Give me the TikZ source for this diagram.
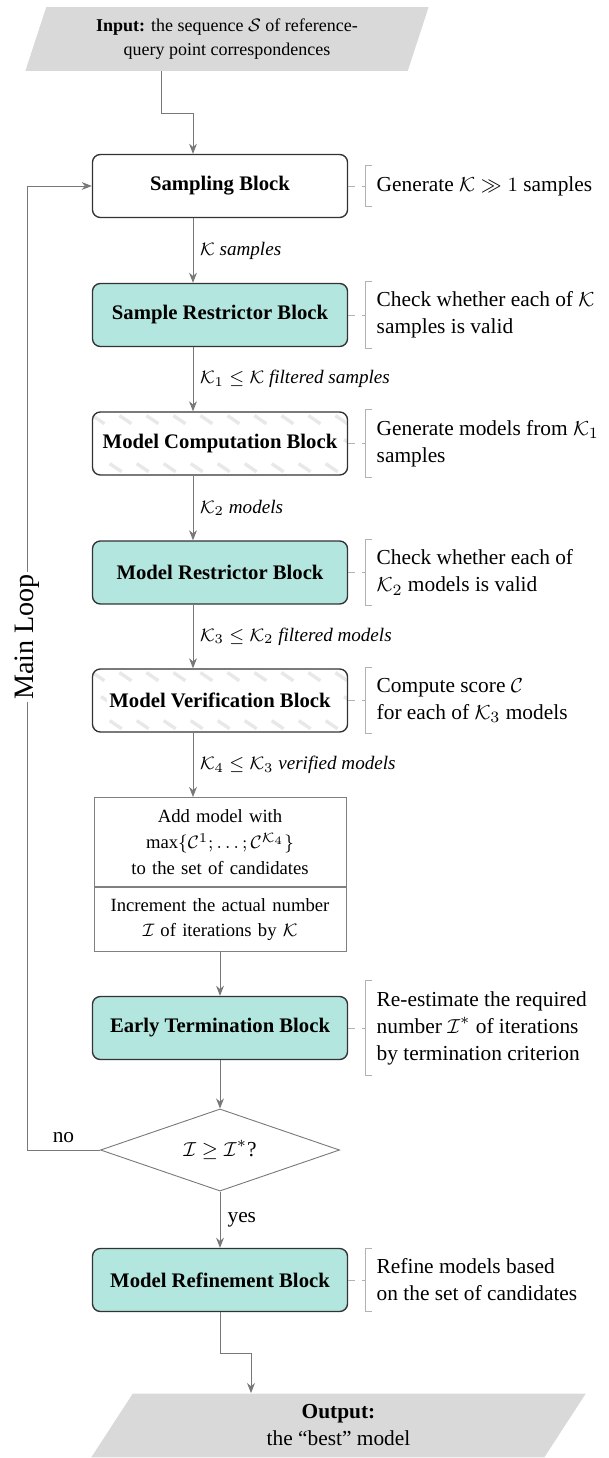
\documentclass[tikz,border=0pt]{standalone}
\usepackage{fontspec}
\setmainfont{Liberation Serif}
\usepackage{amsmath,amssymb}
\usetikzlibrary{shapes,arrows.meta,positioning}

\definecolor{blockteal}{RGB}{179,230,222}
\definecolor{iogray}{RGB}{217,217,217}
\definecolor{linegray}{RGB}{120,120,120}

\begin{document}
\fontsize{9.5pt}{12pt}\selectfont
\setlength{\fboxsep}{1pt}
\begin{tikzpicture}[x=0.015625cm,y=-0.015625cm,
  block/.style={draw=black!80,line width=0.6pt,rounded corners=3.5pt,minimum width=113.4pt,minimum height=28pt,font=\fontsize{9.2pt}{11pt}\selectfont\bfseries},
  restrict/.style={block,fill=blockteal},
  hatched/.style={block,fill=white,path picture={
    \foreach \i in {-4,...,10}
      \draw[gray!18,line width=1.5pt,dash pattern=on 6.4pt off 12.7pt]
        ([xshift=\i*12pt,yshift=-1.6pt]path picture bounding box.north west) -- ++(-34:60pt);}},
  cell/.style={draw=gray,text width=108pt,inner xsep=2pt,align=center,font=\fontsize{8.3pt}{11.5pt}\selectfont},
  io/.style={trapezium,trapezium left angle=74,trapezium right angle=106,trapezium stretches=true,fill=iogray,align=center,minimum height=28.4pt},
  flow/.style={draw=linegray,-{Stealth[length=4.5pt,width=3.5pt]}},
  link/.style={draw=gray!60,dashed},
  bracket/.style={draw=gray!60},
  note/.style={anchor=west,align=left,inner xsep=5pt,inner ysep=4.5pt},
  lbl/.style={right,font=\fontsize{8.5pt}{10pt}\selectfont\itshape,inner sep=3pt}]
\useasboundingbox (0,0) rectangle (608,1458);

\node[io,minimum width=179.6pt,font=\fontsize{8pt}{11pt}\selectfont](input) at (227,39) {\textbf{Input:} the sequence $\mathcal{S}$ of reference-\\query point correspondences};
\node[block](samp) at (220,186) {Sampling Block};
\node[restrict](srb) at (220,315) {Sample Restrictor Block};
\node[hatched](mcb) at (220,443.5) {\colorbox{white}{Model Computation Block}};
\node[restrict](mrb) at (220,572.5) {Model Restrictor Block};
\node[hatched](mvb) at (220,700.5) {\colorbox{white}{Model Verification Block}};
\node[cell,minimum height=39.6pt,anchor=north](cand) at (220,797) {Add model with\\$\max\{\mathcal{C}^1;\ldots;\mathcal{C}^{\mathcal{K}_4}\}$\\to the set of candidates};
\node[cell,minimum height=28.5pt,below=0pt of cand](incr) {Increment the actual number\\$\mathcal{I}$ of iterations by $\mathcal{K}$};
\node[restrict](etb) at (220,1028) {Early Termination Block};
\node[diamond,draw=linegray,aspect=2.9,minimum width=106.3pt,minimum height=36.5pt,inner sep=1pt](test) at (220,1150) {$\mathcal{I} \geq \mathcal{I}^{*}$?};
\node[restrict](mfb) at (220,1280) {Model Refinement Block};
\node[io,minimum width=221pt](output) at (338.5,1425.5) {\textbf{Output:}\\the ``best'' model};

% side notes
\node[note](n1) at (365,186) {Generate $\mathcal{K} \gg 1$ samples};
\node[note](n2) at (365,315) {Check whether each of $\mathcal{K}$\\samples is valid};
\node[note](n3) at (365,443.5) {Generate models from $\mathcal{K}_1$\\samples};
\node[note](n4) at (365,572.5) {Check whether each of\\$\mathcal{K}_2$ models is valid};
\node[note](n5) at (365,700.5) {Compute score $\mathcal{C}$\\for each of $\mathcal{K}_3$ models};
\node[note](n6) at (365,1028) {Re-estimate the required\\number $\mathcal{I}^*$ of iterations\\by termination criterion};
\node[note](n7) at (365,1280) {Refine models based\\on the set of candidates};
\foreach \n/\b in {n1/samp,n2/srb,n3/mcb,n4/mrb,n5/mvb,n6/etb,n7/mfb}{
  \draw[link] (\b.east) -- (\n.west);
  \draw[bracket] ([xshift=3.1pt]\n.north west) -- (\n.north west) -- (\n.south west) -- ([xshift=3.1pt]\n.south west);
}

% main flow
\coordinate (lane) at (193,0);
\coordinate (inbend) at (161,113);
\coordinate (outbend) at (251,1353);
\coordinate (loopx) at (27,0);
\draw[flow] (input.south -| inbend) -- (inbend) -| (samp.north -| lane);
\draw[flow] (samp.south -| lane) -- node[lbl]{$\mathcal{K}$ samples} (srb.north -| lane);
\draw[flow] (srb.south -| lane) -- node[lbl]{$\mathcal{K}_1 \leq \mathcal{K}$ filtered samples} (mcb.north -| lane);
\draw[flow] (mcb.south -| lane) -- node[lbl]{$\mathcal{K}_2$ models} (mrb.north -| lane);
\draw[flow] (mrb.south -| lane) -- node[lbl]{$\mathcal{K}_3 \leq \mathcal{K}_2$ filtered models} (mvb.north -| lane);
\draw[flow] (mvb.south -| lane) -- node[lbl]{$\mathcal{K}_4 \leq \mathcal{K}_3$ verified models} (cand.north -| lane);
\draw[flow] (incr.south) -- (etb.north);
\draw[flow] (etb.south) -- (test.north);
\draw[flow] (test.south) -- node[right]{yes} (mfb.north);
\draw[flow] (mfb.south) |- (outbend) -- (output.north -| outbend);
\draw[flow] (test.west) -- node[above]{no} (test.west -| loopx) -- (samp.west -| loopx) -- (samp.west);
\node[rotate=90,fill=white,font=\fontsize{12.5pt}{15pt}\selectfont,inner sep=1pt](loop) at (27,637) {Main Loop};
\end{tikzpicture}
\end{document}
